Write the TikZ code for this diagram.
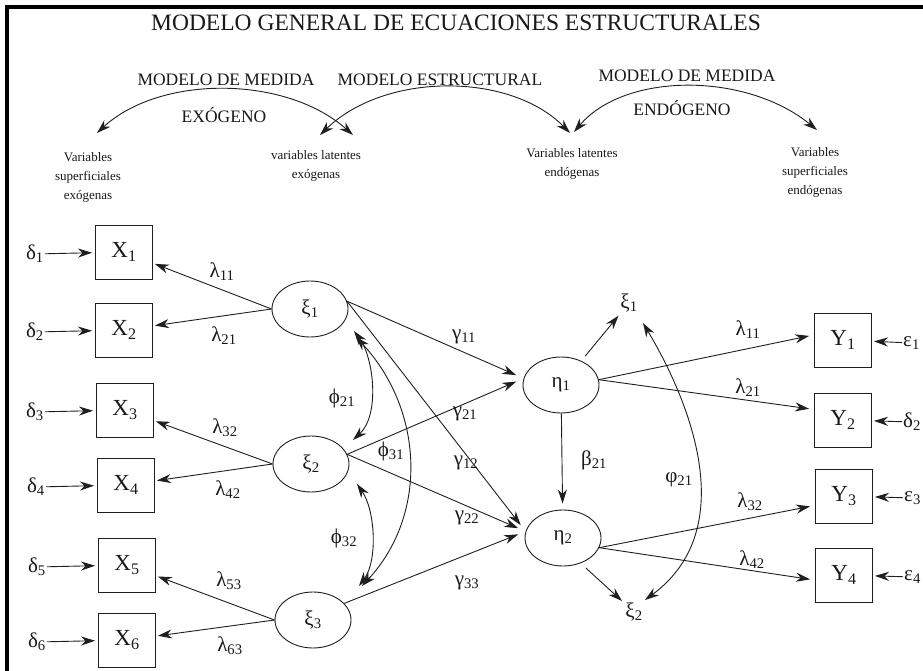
\documentclass[tikz,border=0pt]{standalone}
\usepackage{fontspec}
\setmainfont{Liberation Serif}
\usetikzlibrary{arrows.meta,shapes.geometric}

\begin{document}
\begin{tikzpicture}[x=1pt,y=-1pt,
  conn/.style={draw=black!88, line width=0.9pt},
  arr/.style={-{Stealth[length=14pt,width=9pt,inset=4.5pt]}},
  twoway/.style={{Stealth[length=14pt,width=9pt,inset=4.5pt]}-{Stealth[length=14pt,width=9pt,inset=4.5pt]}},
  obs/.style={draw=black!88, line width=0.9pt, rectangle, minimum width=57pt,
    minimum height=54pt, inner sep=0pt, text=black!90, font=\fontsize{23}{25}\selectfont},
  lat/.style={draw=black!88, line width=0.9pt, ellipse, minimum width=76pt,
    minimum height=56pt, inner sep=0pt, text=black!90, font=\fontsize{21}{23}\selectfont},
  gk/.style={inner sep=1pt, text=black!90, font=\fontsize{21}{23}\selectfont},
  headlbl/.style={inner sep=0pt, text=black!90, font=\fontsize{17.5}{20}\selectfont},
  smalltxt/.style={inner sep=0pt, align=center, text=black!90, font=\fontsize{13}{19}\selectfont},
]
\useasboundingbox (0,0) rectangle (923,671);
\clip (0,0) rectangle (923,671);
\fill[white] (0,0) rectangle (923,671);

% frame lines (left and top)
\draw[line width=3.5pt, black] (7,671) -- (7,7) -- (923,7);

% title and section headings
\node[inner sep=0pt, text=black!90, font=\fontsize{23.5}{26}\selectfont] (title) at (456,23)
  {MODELO GENERAL DE ECUACIONES ESTRUCTURALES};
\node[headlbl] (mmx)  at (226,80) {MODELO DE MEDIDA};
\node[headlbl] (mest) at (440,80) {MODELO ESTRUCTURAL};
\node[headlbl] (mmn)  at (687,76) {MODELO DE MEDIDA};
\node[headlbl] (exo)  at (224,115) {EXÓGENO};
\node[headlbl] (endo) at (682,108) {ENDÓGENO};

\node[smalltxt] (vse) at (88,177)  {Variables\\superficiales\\exógenas};
\node[smalltxt] (vle) at (316,166) {variables latentes\\exógenas};
\node[smalltxt] (vln) at (572,164) {Variables latentes\\endógenas};
\node[smalltxt] (vsn) at (815,172) {Variables\\superficiales\\endógenas};

% brackets over the groups
\coordinate (aL1) at (97,133);  \coordinate (aL2) at (353,135);
\coordinate (aM1) at (320,135); \coordinate (aM2) at (570,133);
\coordinate (aR1) at (574,132); \coordinate (aR2) at (817,130);
\draw[conn, twoway] (aL1) .. controls (160,75) and (285,75) .. (aL2);
\draw[conn, twoway] (aM1) .. controls (385,72) and (510,72) .. (aM2);
\draw[conn, twoway] (aR1) .. controls (625,72) and (746,72) .. (aR2);

% observed exogenous indicators
\node[obs] (X1) at (124,252) {X\textsubscript{1}};
\node[obs] (X2) at (124,330) {X\textsubscript{2}};
\node[obs] (X3) at (125,410) {X\textsubscript{3}};
\node[obs] (X4) at (126,485) {X\textsubscript{4}};
\node[obs] (X5) at (127,565) {X\textsubscript{5}};
\node[obs] (X6) at (127,640) {X\textsubscript{6}};

\node[gk, anchor=east] (d1) at (45,254) {δ\textsubscript{1}};
\node[gk, anchor=east] (d2) at (45,332) {δ\textsubscript{2}};
\node[gk, anchor=east] (d3) at (45,412) {δ\textsubscript{3}};
\node[gk, anchor=east] (d4) at (46,487) {δ\textsubscript{4}};
\node[gk, anchor=east] (d5) at (47,567) {δ\textsubscript{5}};
\node[gk, anchor=east] (d6) at (47,642) {δ\textsubscript{6}};
\foreach \i in {1,...,6}
  \draw[conn, arr, shorten >=3pt] (d\i) -- (X\i);

% observed endogenous indicators
\node[obs] (Y1) at (843,340) {Y\textsubscript{1}};
\node[obs] (Y2) at (843,420) {Y\textsubscript{2}};
\node[obs] (Y3) at (844,496) {Y\textsubscript{3}};
\node[obs] (Y4) at (844,575) {Y\textsubscript{4}};

\node[gk, anchor=west] (e1) at (902,343) {ε\textsubscript{1}};
\node[gk, anchor=west] (e2) at (902,422) {δ\textsubscript{2}};
\node[gk, anchor=west] (e3) at (903,498) {ε\textsubscript{3}};
\node[gk, anchor=west] (e4) at (903,577) {ε\textsubscript{4}};
\foreach \i in {1,...,4}
  \draw[conn, arr, shorten >=2pt] (e\i) -- (Y\i);

% latent variables
\node[lat] (xi1)  at (310,309) {ξ\textsubscript{1}};
\node[lat] (xi2)  at (311,464) {ξ\textsubscript{2}};
\node[lat] (xi3)  at (313,620) {ξ\textsubscript{3}};
\node[lat] (eta1) at (561,385) {η\textsubscript{1}};
\node[lat] (eta2) at (563,538) {η\textsubscript{2}};

% exogenous loadings
\draw[conn, arr, shorten >=2pt] (xi1.west) -- (X1);
\draw[conn, arr, shorten >=2pt] (xi1.west) -- (X2);
\draw[conn, arr, shorten >=2pt] (xi2.west) -- (X3);
\draw[conn, arr, shorten >=2pt] (xi2.west) -- (X4);
\draw[conn, arr, shorten >=2pt] (xi3.west) -- (X5);
\draw[conn, arr, shorten >=2pt] (xi3.west) -- (X6);
\node[gk] (l11) at (222,272) {λ\textsubscript{11}};
\node[gk] (l21) at (224,336) {λ\textsubscript{21}};
\node[gk] (l32) at (225,428) {λ\textsubscript{32}};
\node[gk] (l42) at (228,490) {λ\textsubscript{42}};
\node[gk] (l53) at (229,581) {λ\textsubscript{53}};
\node[gk] (l63) at (230,646) {λ\textsubscript{63}};

% structural paths
\draw[conn, arr, shorten >=8pt] (xi1.12) -- (eta1.170);
\draw[conn, arr, shorten >=8pt] (xi1.12) -- (eta2.170);
\draw[conn, arr, shorten >=8pt] (xi2.15) -- (eta1.170);
\draw[conn, arr, shorten >=8pt] (xi2.15) -- (eta2.170);
\draw[conn, arr, shorten >=8pt] (xi3.28) -- (eta2.170);
\draw[conn, arr, shorten >=6pt] (eta1) -- (eta2);
\node[gk] (g11) at (464,337) {γ\textsubscript{11}};
\node[gk] (g21) at (465,414) {γ\textsubscript{21}};
\node[gk] (g12) at (466,463) {γ\textsubscript{12}};
\node[gk] (g22) at (467,518) {γ\textsubscript{22}};
\node[gk] (g33) at (467,583) {γ\textsubscript{33}};
\node[gk] (b21) at (594,460) {β\textsubscript{21}};

% covariances among the exogenous latents
\draw[conn, twoway] ([shift={(44,22)}]xi1.center) .. controls (374,358) and (380,415) .. ([shift={(42,-24)}]xi2.center);
\draw[conn, twoway] ([shift={(46,28)}]xi1.center) .. controls (424,410) and (428,515) .. ([shift={(49,-34)}]xi3.center);
\draw[conn, twoway] ([shift={(46,20)}]xi2.center) .. controls (375,510) and (378,560) .. ([shift={(46,-34)}]xi3.center);
\node[gk] (p21) at (342,398) {ϕ\textsubscript{21}};
\node[gk] (p31) at (391,451) {ϕ\textsubscript{31}};
\node[gk] (p32) at (344,538) {ϕ\textsubscript{32}};

% endogenous loadings
\draw[conn, arr, shorten >=5pt] (eta1.8) -- (Y1.170);
\draw[conn, arr, shorten >=5pt] (eta1.8) -- (Y2.160);
\draw[conn, arr, shorten >=5pt] (eta2.-15) -- (Y3.198);
\draw[conn, arr, shorten >=5pt] (eta2.-15) -- (Y4.190);
\node[gk] (m11) at (748,330) {λ\textsubscript{11}};
\node[gk] (m21) at (748,388) {λ\textsubscript{21}};
\node[gk] (m32) at (750,502) {λ\textsubscript{32}};
\node[gk] (m42) at (752,560) {λ\textsubscript{42}};

% disturbances of the endogenous latents
\node[gk] (z1) at (629,303) {ξ\textsubscript{1}};
\node[gk] (z2) at (634,612) {ξ\textsubscript{2}};
\draw[conn, arr, shorten <=6pt, shorten >=3pt] (eta1.50) -- (z1);
\draw[conn, arr, shorten <=7pt, shorten >=3pt] (eta2.-55) -- (z2);
\draw[conn, twoway] ([shift={(14,20)}]z1.center) .. controls (692,405) and (740,530) .. ([shift={(11,-12)}]z2.center);
\node[gk] (q21) at (679,480) {φ\textsubscript{21}};

\end{tikzpicture}
\end{document}
